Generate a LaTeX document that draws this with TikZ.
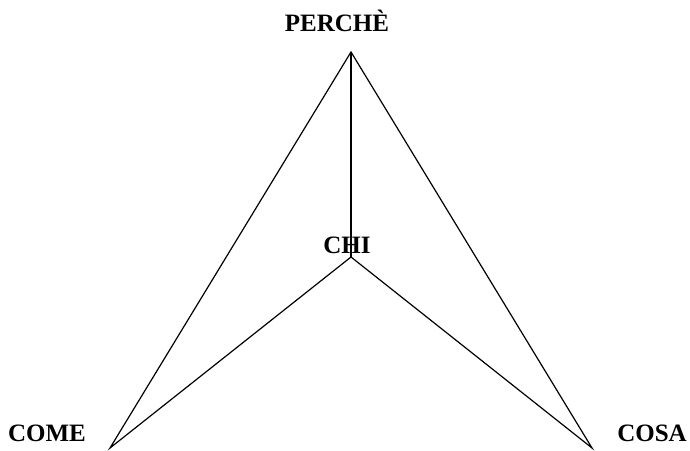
\documentclass[tikz,border=0pt]{standalone}
\usepackage{fontspec}
\setmainfont{Liberation Serif}
\tikzset{
    word/.style={font=\fontsize{25}{29}\selectfont\bfseries, inner sep=0pt},
    edge/.style={line width=1.2pt, line join=miter}
}
\begin{document}
\begin{tikzpicture}[x=1pt, y=1pt]
    \useasboundingbox (0,0) rectangle (690,450);
    % corners of the star
    \coordinate (top) at (351,398);
    \coordinate (mid) at (351,193);
    \coordinate (left) at (110,2);
    \coordinate (right) at (592,2);

    % labels
    \node[word] (perche) at (337,429) {PERCHÈ};
    \node[word] (chi) at (347,205) {CHI};
    \node[word] (come) at (47,17) {COME};
    \node[word] (cosa) at (652,17) {COSA};

    % outline
    \draw[edge] (top) -- (left) -- (mid) -- (right) -- cycle;
    \draw[edge] (top) -- (mid);
\end{tikzpicture}
\end{document}
